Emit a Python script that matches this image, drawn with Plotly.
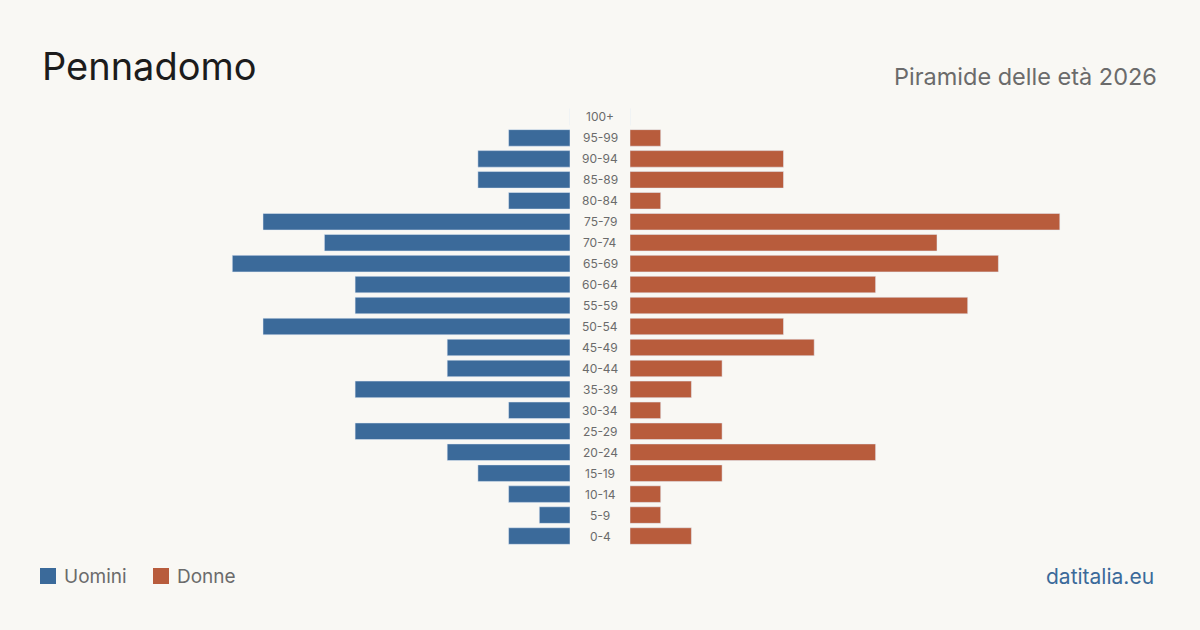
import plotly.graph_objects as go

W, H = 1200, 630
ages = ["0-4","5-9","10-14","15-19","20-24","25-29","30-34","35-39","40-44","45-49",
        "50-54","55-59","60-64","65-69","70-74","75-79","80-84","85-89","90-94","95-99","100+"]
uomini = [2,1,2,3,4,7,2,7,4,4,10,7,7,11,8,10,2,3,3,2,0]
donne  = [2,1,1,3,8,3,1,2,3,6,5,11,8,12,10,14,1,5,5,1,0]

title = "Pennadomo"
subtitle = "Piramide delle età 2026"
source = "datitalia.eu"

BG = "#f9f8f4"
BLUE = "#3b6a9a"
ORANGE = "#b85c3c"
FONT = "Inter"

XMAX = 15
unit = 30.7
left_r, right_l = 570, 630
left_l = left_r - XMAX * unit
right_r = right_l + XMAX * unit
y_top, y_bot = 106.5, 546.5

fig = go.Figure()
fig.add_trace(go.Bar(y=ages, x=uomini, orientation="h", marker_color=BLUE,
                     xaxis="x", yaxis="y", name="Uomini", showlegend=False,
                     hoverinfo="x+y"))
fig.add_trace(go.Bar(y=ages, x=donne, orientation="h", marker_color=ORANGE,
                     xaxis="x2", yaxis="y2", name="Donne", showlegend=False,
                     hoverinfo="x+y"))

ydom = [1 - y_bot / H, 1 - y_top / H]
fig.update_layout(
    width=W, height=H, paper_bgcolor=BG, plot_bgcolor=BG,
    margin=dict(l=0, r=0, t=0, b=0),
    bargap=0.21,
    xaxis=dict(domain=[left_l / W, left_r / W], range=[XMAX, 0], visible=False, fixedrange=True),
    xaxis2=dict(domain=[right_l / W, right_r / W], range=[0, XMAX], visible=False, fixedrange=True),
    yaxis=dict(domain=ydom, type="category", categoryorder="array", categoryarray=ages,
               range=[-0.5, len(ages) - 0.5], visible=False, fixedrange=True),
    yaxis2=dict(domain=ydom, type="category", categoryorder="array", categoryarray=ages,
                range=[-0.5, len(ages) - 0.5], visible=False, fixedrange=True, anchor="x2"),
    font=dict(family=FONT),
)

ann = []
for a in ages:
    ann.append(dict(x=600 / W, xref="paper", y=a, yref="y", text=a, showarrow=False,
                    xanchor="center", yanchor="middle",
                    font=dict(size=12, color="#6b6b6b", family=FONT)))
ann.append(dict(x=40 / W, y=1 - 66 / H, xref="paper", yref="paper", text=title, showarrow=False,
                xanchor="left", yanchor="middle", font=dict(size=38, color="#1c1c1c", family=FONT)))
ann.append(dict(x=1159 / W, y=1 - 76 / H, xref="paper", yref="paper", text=subtitle, showarrow=False,
                xanchor="right", yanchor="middle", font=dict(size=23.5, color="#6b6b6b", family=FONT)))
ann.append(dict(x=1156 / W, y=1 - 576 / H, xref="paper", yref="paper", text=source, showarrow=False,
                xanchor="right", yanchor="middle", font=dict(size=21, color=BLUE, family=FONT)))
shapes = []
for lx, col, lab in [(40, BLUE, "Uomini"), (153, ORANGE, "Donne")]:
    shapes.append(dict(type="rect", xref="paper", yref="paper",
                       x0=lx / W, x1=(lx + 16) / W, y0=1 - 584 / H, y1=1 - 568 / H,
                       fillcolor=col, line=dict(width=0)))
    ann.append(dict(x=(lx + 22) / W, y=1 - 576 / H, xref="paper", yref="paper", text=lab,
                    showarrow=False, xanchor="left", yanchor="middle",
                    font=dict(size=19, color="#6b6b6b", family=FONT)))
fig.update_layout(annotations=ann, shapes=shapes)

fig.write_html("out.html", config={"displayModeBar": False})
